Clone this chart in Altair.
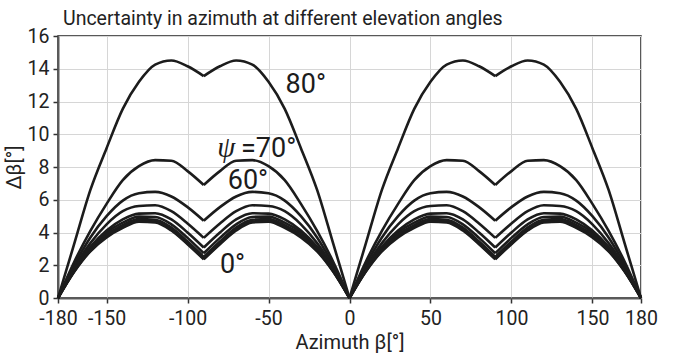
import altair as alt
import pandas as pd

# Azimuth grid (degrees)
BETA = list(range(-180, 181, 10))

# Elevation angles (degrees) and read-off curve values (Δβ in degrees) at BETA
PSI = [0, 10, 20, 30, 40, 50, 60, 70, 80]

D0 = [0, 1.6, 2.85, 3.7, 4.28, 4.66, 4.62, 4.12, 3.28, 2.36, 3.28, 4.12, 4.62, 4.66, 4.28, 3.7, 2.85, 1.6, 0,
      1.6, 2.85, 3.7, 4.28, 4.66, 4.62, 4.12, 3.28, 2.36, 3.28, 4.12, 4.62, 4.66, 4.28, 3.7, 2.85, 1.6, 0]
D10 = [0, 1.62, 2.9, 3.77, 4.34, 4.71, 4.67, 4.18, 3.33, 2.4, 3.33, 4.18, 4.67, 4.71, 4.34, 3.77, 2.9, 1.62, 0,
       1.62, 2.9, 3.77, 4.34, 4.71, 4.67, 4.18, 3.33, 2.4, 3.33, 4.18, 4.67, 4.71, 4.34, 3.77, 2.9, 1.62, 0]
D20 = [0, 1.65, 2.97, 3.87, 4.45, 4.82, 4.78, 4.3, 3.45, 2.51, 3.45, 4.3, 4.78, 4.82, 4.45, 3.87, 2.97, 1.65, 0,
       1.65, 2.97, 3.87, 4.45, 4.82, 4.78, 4.3, 3.45, 2.51, 3.45, 4.3, 4.78, 4.82, 4.45, 3.87, 2.97, 1.65, 0]
D30 = [0, 1.7, 3.05, 4.0, 4.6, 4.97, 4.95, 4.5, 3.67, 2.73, 3.67, 4.5, 4.95, 4.97, 4.6, 4.0, 3.05, 1.7, 0,
       1.7, 3.05, 4.0, 4.6, 4.97, 4.95, 4.5, 3.67, 2.73, 3.67, 4.5, 4.95, 4.97, 4.6, 4.0, 3.05, 1.7, 0]
D40 = [0, 1.75, 3.12, 4.12, 4.8, 5.15, 5.18, 4.8, 4.0, 3.08, 4.0, 4.8, 5.18, 5.15, 4.8, 4.12, 3.12, 1.75, 0,
       1.75, 3.12, 4.12, 4.8, 5.15, 5.18, 4.8, 4.0, 3.08, 4.0, 4.8, 5.18, 5.15, 4.8, 4.12, 3.12, 1.75, 0]
D50 = [0, 1.85, 3.35, 4.5, 5.3, 5.62, 5.66, 5.3, 4.55, 3.67, 4.55, 5.3, 5.66, 5.62, 5.3, 4.5, 3.35, 1.85, 0,
       1.85, 3.35, 4.5, 5.3, 5.62, 5.66, 5.3, 4.55, 3.67, 4.55, 5.3, 5.66, 5.62, 5.3, 4.5, 3.35, 1.85, 0]
D60 = [0, 2.0, 3.7, 5.0, 5.95, 6.4, 6.48, 6.2, 5.55, 4.72, 5.55, 6.2, 6.48, 6.4, 5.95, 5.0, 3.7, 2.0, 0,
       2.0, 3.7, 5.0, 5.95, 6.4, 6.48, 6.2, 5.55, 4.72, 5.55, 6.2, 6.48, 6.4, 5.95, 5.0, 3.7, 2.0, 0]
D70 = [0, 2.2, 4.1, 5.75, 7.2, 8.05, 8.42, 8.38, 7.75, 6.9, 7.75, 8.38, 8.42, 8.05, 7.2, 5.75, 4.1, 2.2, 0,
       2.2, 4.1, 5.75, 7.2, 8.05, 8.42, 8.38, 7.75, 6.9, 7.75, 8.38, 8.42, 8.05, 7.2, 5.75, 4.1, 2.2, 0]
D80 = [0, 3.3, 6.6, 9.15, 11.55, 13.2, 14.25, 14.5, 14.15, 13.55, 14.15, 14.5, 14.25, 13.2, 11.55, 9.15, 6.6, 3.3, 0,
       3.3, 6.6, 9.15, 11.55, 13.2, 14.25, 14.5, 14.15, 13.55, 14.15, 14.5, 14.25, 13.2, 11.55, 9.15, 6.6, 3.3, 0]
SERIES = [D0, D10, D20, D30, D40, D50, D60, D70, D80]

# Segment boundaries (curve has cusps here)
BREAKS = [-180, -90, 0, 90, 180]

X_TICKS = [-180, -150, -100, -50, 0, 50, 100, 150, 180]
Y_TICKS = [0, 2, 4, 6, 8, 10, 12, 14, 16]

# Curve annotations
LABEL_TEXT = ["80°", "=70°", "60°", "0°"]
LABEL_BETA = [-39.5, -67.0, -75.2, -80.0]
LABEL_VAL = [12.5, 8.62, 6.66, 1.55]
PSI_TEXT = ["ψ"]
PSI_BETA = [-81.6]
PSI_VAL = [8.62]

TITLE = "Uncertainty in azimuth at different elevation angles"
FONT = "Roboto, Liberation Sans, sans-serif"
INK = "#1c1c1c"

rows = []
for psi, vals in zip(PSI, SERIES):
    for s in range(len(BREAKS) - 1):
        lo, hi = BREAKS[s], BREAKS[s + 1]
        for b, v in zip(BETA, vals):
            if lo <= b <= hi:
                rows.append({"beta": b, "v": v, "psi": psi, "seg": f"{psi}_{s}"})
df = pd.DataFrame(rows)

labels = pd.DataFrame({"t": LABEL_TEXT, "beta": LABEL_BETA, "v": LABEL_VAL})
psi_lab = pd.DataFrame({"t": PSI_TEXT, "beta": PSI_BETA, "v": PSI_VAL})

xscale = alt.Scale(domain=[-180, 180], nice=False, zero=False)
yscale = alt.Scale(domain=[0, 16], nice=False)
XAX = alt.Axis(values=X_TICKS, title="Azimuth β[°]", labelExpr="'' + datum.value",
               labelOverlap=False, labelFlush=False, titlePadding=5, labelPadding=6)
YAX = alt.Axis(values=Y_TICKS, title="Δβ[°]", labelOverlap=False, labelFlush=False,
               titlePadding=3, labelPadding=4)
X = alt.X("beta:Q", scale=xscale, axis=XAX)
Y = alt.Y("v:Q", scale=yscale, axis=YAX)

lines = alt.Chart(df).mark_line(color=INK, strokeWidth=2.6, interpolate="monotone").encode(
    x=X, y=Y, detail="seg:N")

text = alt.Chart(labels).mark_text(align="left", baseline="alphabetic", fontSize=27,
                                   font=FONT, color=INK).encode(x=X, y=Y, text="t:N")

psitext = alt.Chart(psi_lab).mark_text(align="left", baseline="alphabetic", fontSize=29,
                                       font="Liberation Serif, DejaVu Serif, serif",
                                       fontStyle="italic", color=INK).encode(x=X, y=Y, text="t:N")

chart = alt.layer(lines, text, psitext).properties(
    width=583, height=262,
    background="white",
    title=alt.TitleParams(TITLE, anchor="start", frame="group", dx=5, offset=-3, fontSize=19.5,
                          font=FONT, fontWeight="normal", color="#222"),
    autosize=alt.AutoSizeParams(type="none"),
    padding={"left": 58, "top": 36, "right": 36, "bottom": 59},
).configure_view(stroke="#222", strokeWidth=1.5).configure_axis(
    gridColor="#d6d6d6", gridWidth=1, domainColor="#5a5a5a", domainWidth=2,
    tickColor="#333", tickSize=5, tickWidth=1.5,
    labelFont=FONT, labelFontSize=19.5, labelColor="#222",
    titleFont=FONT, titleFontSize=20, titleFontWeight="normal", titleColor="#222",
)

chart.save("out.html", embed_options={"renderer": "svg", "actions": False})
